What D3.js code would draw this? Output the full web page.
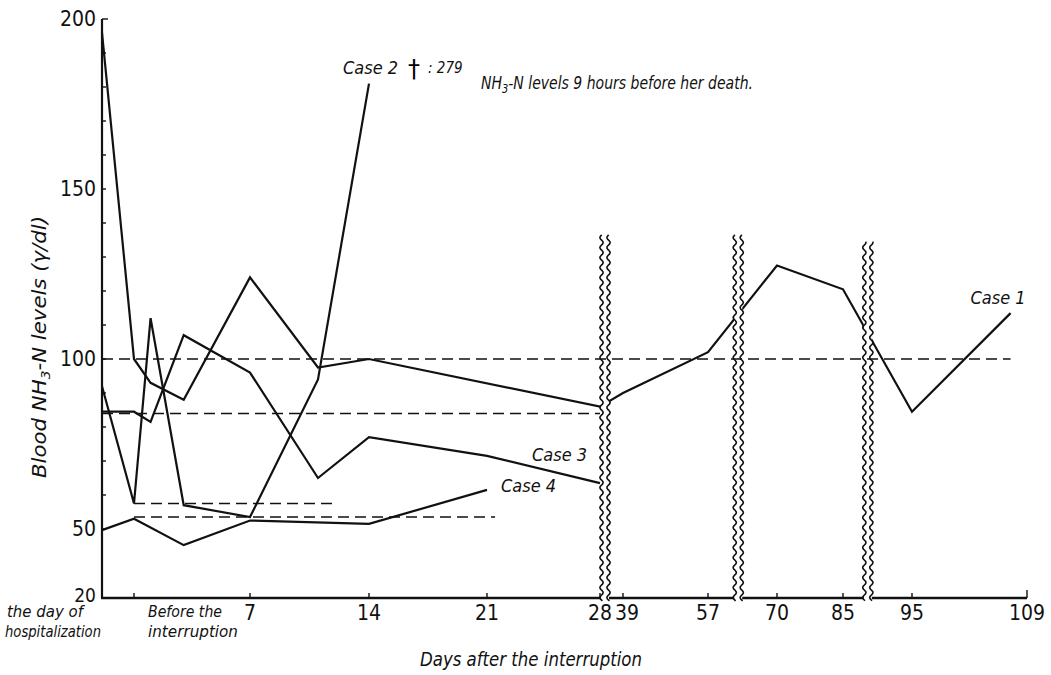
<!DOCTYPE html>
<html>
<head>
<meta charset="utf-8">
<script src="https://cdn.jsdelivr.net/npm/d3@7"></script>
<style>
  html, body { margin: 0; padding: 0; background: #fff; }
  #chart { width: 1051px; height: 675px; }
  .num { font-family: "Liberation Sans Narrow", "DejaVu Sans Condensed", sans-serif; fill: #111; }
  .hand { font-family: "DejaVu Sans Condensed", "Liberation Sans Narrow", sans-serif; font-style: italic; fill: #111; }
</style>
</head>
<body>
<div id="chart"></div>
<script>
/* global d3 */

// hospitalization day sits left of day 0 on the hand drawn axis
const HOSP = -2;

// x axis (days after the interruption), broken three times
const tickDays = [0, 7, 14, 21, 28, 39, 57, 70, 85, 95, 109];
const tickLabels = ['', '7', '14', '21', '28', '39', '57', '70', '85', '95', '109'];
const breakDays = [30.4, 62.7, 88.6];
const breakTopVals = [136.5, 136.5, 134.5];

// y axis (NH3-N, gamma/dl)
const yTickLabels = [20, 50, 100, 150, 200];

// Case 1
const case1Days = [HOSP, 0, 1, 3, 7, 11, 14, 28, 39, 57, 70, 85, 95, 107];
const case1Vals = [196, 100, 93, 88, 124, 97.5, 100, 86, 90, 102, 127.5, 120.5, 84.5, 113.5];
// Case 2 (last value 279, drawn up to the note)
const case2Days = [HOSP, 0, 1, 3, 7, 11, 14];
const case2Vals = [92, 57.5, 112, 57, 53.5, 94, 279];
const case2DrawCap = 181;
// Case 3
const case3Days = [HOSP, 0, 1, 3, 7, 11, 14, 21, 28];
const case3Vals = [84.5, 84.5, 81.5, 107, 96, 65, 77, 71.5, 63.5];
// Case 4
const case4Days = [HOSP, 0, 3, 7, 14, 21];
const case4Vals = [49.5, 53, 43, 52.5, 51.5, 61.5];

// dashed reference levels [value, from day, to day]
const baseVals = [100, 57.5, 84, 53.5];
const baseFrom = [HOSP, 0, HOSP, 0];
const baseTo = [107, 12, 28, 21.5];

const Chart = {
    init() {
        this.$svg = d3.select('#chart').append('svg')
            .attr('width', 1051)
            .attr('height', 675);

        // piecewise scales, the paper axis is not uniform
        this.x = d3.scaleLinear()
            .domain([HOSP].concat(tickDays))
            .range([102, 134, 250, 369, 487, 600, 623, 708, 777, 843, 912, 1027]);
        this.y = d3.scaleLinear()
            .domain([20, 50, 200])
            .range([598, 529, 19]);

        Chart.render();
    },
    render() {
        const { x, y, $svg } = this;
        const y0 = y(20);

        const $lines = $svg.append('g').attr('class', 'g-lines');
        const line = d3.line().x(d => x(d[0])).y(d => y(d[1]));

        const series = [
            d3.zip(case1Days, case1Vals),
            d3.zip(case2Days, case2Vals.map(v => Math.min(v, case2DrawCap))),
            d3.zip(case3Days, case3Vals),
            d3.zip(case4Days, case4Vals)
        ];
        $lines.selectAll('.case')
            .data(series)
            .enter()
            .append('path')
            .attr('class', 'case')
            .attr('d', line)
            .attr('fill', 'none')
            .attr('stroke', '#111')
            .attr('stroke-width', 2.2)
            .attr('stroke-linejoin', 'miter');

        // axes
        const $axis = $svg.append('g').attr('class', 'g-axis');
        $axis.append('line')
            .attr('x1', x(HOSP)).attr('x2', x(HOSP))
            .attr('y1', y(200)).attr('y2', y0)
            .attr('stroke', '#111').attr('stroke-width', 2.2);
        $axis.append('line')
            .attr('x1', x(HOSP) - 1).attr('x2', x(109))
            .attr('y1', y0).attr('y2', y0)
            .attr('stroke', '#111').attr('stroke-width', 2.6);

        $axis.selectAll('.ytick')
            .data(d3.range(50, 201, 10))
            .enter()
            .append('line')
            .attr('x1', x(HOSP)).attr('x2', d => x(HOSP) + (d === 200 ? 6 : 4))
            .attr('y1', d => y(d)).attr('y2', d => y(d))
            .attr('stroke', '#111').attr('stroke-width', 1.4);

        $axis.selectAll('.ylab')
            .data(yTickLabels)
            .enter()
            .append('text')
            .attr('class', 'num')
            .attr('x', x(HOSP) - 6)
            .attr('y', d => y(d) + (d === 20 ? 4 : 7))
            .attr('text-anchor', 'end')
            .attr('font-size', d => d === 20 ? 19 : 21)
            .text(d => d);

        $axis.selectAll('.xtick')
            .data(tickDays)
            .enter()
            .append('line')
            .attr('x1', d => x(d)).attr('x2', d => x(d))
            .attr('y1', y0).attr('y2', d => y0 - (d === 109 ? 8 : 5))
            .attr('stroke', '#111').attr('stroke-width', 1.4);

        $axis.selectAll('.xlab')
            .data(tickDays)
            .enter()
            .append('text')
            .attr('class', 'num')
            .attr('x', (d, i) => x(d) + (d === 39 ? 4 : 0))
            .attr('y', y0 + 22)
            .attr('text-anchor', 'middle')
            .attr('font-size', 21)
            .text((d, i) => tickLabels[i]);

        // axis breaks: white gap and two wavy strokes
        const $breaks = $svg.append('g').attr('class', 'g-breaks');
        const wave = (cx, top) => {
            const pts = d3.range(top, y0 + 3, 1).map(t => [cx + 1.7 * Math.sin(t * 2 * Math.PI / 10), t]);
            return d3.line().curve(d3.curveBasis)(pts);
        };
        breakDays.forEach((bd, i) => {
            const cx = x(bd);
            const top = y(breakTopVals[i]);
            $breaks.append('rect')
                .attr('x', cx - 4).attr('width', 8)
                .attr('y', top).attr('height', y0 - top + 4)
                .attr('fill', '#fff');
            [-3.5, 3.5].forEach(off => {
                $breaks.append('path')
                    .attr('d', wave(cx + off, top))
                    .attr('fill', 'none')
                    .attr('stroke', '#111')
                    .attr('stroke-width', 1.6);
            });
        });

        // dashed reference levels
        $svg.append('g').attr('class', 'g-base')
            .selectAll('line')
            .data(baseVals)
            .enter()
            .append('line')
            .attr('x1', (d, i) => x(baseFrom[i]))
            .attr('x2', (d, i) => x(baseTo[i]))
            .attr('y1', d => y(d)).attr('y2', d => y(d))
            .attr('stroke', '#111')
            .attr('stroke-width', 1.5)
            .attr('stroke-dasharray', '11,6');

        // labels
        const $lab = $svg.append('g').attr('class', 'g-labels');
        const hand = (tx, ty, size, str, len) => {
            const t = $lab.append('text')
                .attr('class', 'hand')
                .attr('x', tx).attr('y', ty)
                .attr('font-size', size)
                .text(str);
            if (len) t.attr('textLength', len).attr('lengthAdjust', 'spacingAndGlyphs');
            return t;
        };

        hand(x(107) - 40, y(115) - 4, 18, 'Case 1');
        hand(x(28) - 68, y(63.5) - 22, 18, 'Case 3');
        hand(x(21) + 14, y(61.5) + 2, 18, 'Case 4');
        hand(343, 74, 18, 'Case 2');
        $lab.append('text')
            .attr('x', 408).attr('y', 77)
            .attr('font-family', 'DejaVu Sans')
            .attr('font-size', 24)
            .text('†');
        hand(428, 73, 15, ': 279');

        const note = hand(481, 89, 17, '', 272);
        note.append('tspan').text('NH');
        note.append('tspan').attr('font-size', 12).attr('dy', 4).text('3');
        note.append('tspan').attr('dy', -4).text('-N levels  9 hours before her death.');

        hand(7, 617, 15, 'the day of', 76);
        hand(5, 637, 15, 'hospitalization', 96);
        hand(148, 617, 15, 'Before the', 74);
        hand(148, 637, 15, 'interruption', 90);

        hand(420, 666, 20, 'Days  after the interruption', 222);

        const ylab = $lab.append('text')
            .attr('class', 'hand')
            .attr('transform', 'translate(46, 478) rotate(-90)')
            .attr('font-size', 20)
            .attr('textLength', 262)
            .attr('lengthAdjust', 'spacingAndGlyphs');
        ylab.append('tspan').text('Blood  NH');
        ylab.append('tspan').attr('font-size', 13).attr('dy', 4).text('3');
        ylab.append('tspan').attr('dy', -4).text('-N levels (γ/dl)');

        return Chart;
    }
};

Chart.init();
</script>
</body>
</html>
